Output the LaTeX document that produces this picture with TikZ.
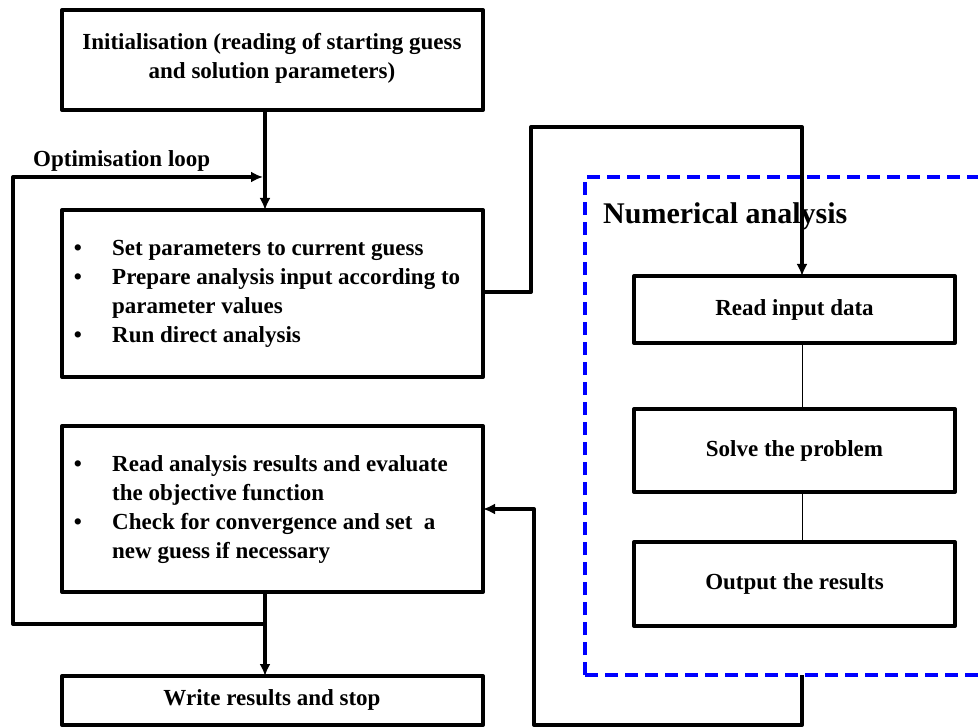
\documentclass[tikz,border=0pt]{standalone}
\usepackage{fontspec}
\setmainfont{Liberation Serif}
\usetikzlibrary{arrows.meta}
\tikzset{
  x=1pt,y=-1pt,
  box/.style={draw,line width=4pt,line join=round},
  conn/.style={line width=4pt,line join=round},
  arr/.style={conn,-{Latex[length=12pt,width=11pt]}},
  thin/.style={line width=0.8pt},
  txt/.style={font=\fontsize{23}{29}\selectfont\bfseries,inner sep=0pt},
}
\begin{document}
\begin{tikzpicture}
\useasboundingbox (0,0) rectangle (978,727);
\begin{scope}
\clip (0,0) rectangle (978,727);
% blue dashed frame
\draw[blue,line width=4pt,dash pattern=on 13pt off 7pt] (585,675) -- (585,177) -- (1000,177);
\draw[blue,line width=4pt,dash pattern=on 13pt off 7pt] (585,675) -- (1000,675);
% left boxes
\draw[box] (62,10) rectangle (483,110);
\coordinate (initS) at (265,110);
\draw[box] (62,210) rectangle (483,377);
\coordinate (b2N) at (265,210);
\coordinate (b2E) at (483,292);
\draw[box] (62,426) rectangle (483,592);
\coordinate (b3S) at (265,592);
\coordinate (b3E) at (483,509);
\draw[box] (62,676) rectangle (483,725);
\coordinate (wN) at (265,676);
% right boxes
\draw[box] (634,276) rectangle (955,343);
\draw[box] (634,409) rectangle (955,492);
\draw[box] (634,542) rectangle (955,626);
\coordinate (rN) at (802,276);
\coordinate (rS) at (802,343);
\coordinate (sN) at (802,409);
\coordinate (sS) at (802,492);
\coordinate (oN) at (802,542);
\coordinate (blueS) at (802,675);
% texts
\node[txt,align=center,font=\fontsize{23}{29}\selectfont\bfseries] (init) at (272,58)
  {Initialisation (reading of starting guess\\and solution parameters)};
\node[txt,anchor=west] (t1) at (112,250) {Set parameters to current guess};
\node[txt,anchor=west] (t2) at (112,279) {Prepare analysis input according to};
\node[txt,anchor=west] (t3) at (112,308) {parameter values};
\node[txt,anchor=west] (t4) at (112,337) {Run direct analysis};
\node[txt] (d1) at (78,250) {•};
\node[txt] (d2) at (78,279) {•};
\node[txt] (d4) at (78,337) {•};
\node[txt,anchor=west] (u1) at (112,466) {Read analysis results and evaluate};
\node[txt,anchor=west] (u2) at (112,495) {the objective function};
\node[txt,anchor=west] (u3) at (112,524) {Check for convergence and set\ \ a};
\node[txt,anchor=west] (u4) at (112,553) {new guess if necessary};
\node[txt] (e1) at (78,466) {•};
\node[txt] (e3) at (78,524) {•};
\node[txt] (write) at (272,700) {Write results and stop};
\node[txt] (read) at (794.5,310) {Read input data};
\node[txt] (solve) at (794.5,451) {Solve the problem};
\node[txt] (out) at (794.5,584) {Output the results};
\node[txt,anchor=base west,font=\fontsize{23}{29}\selectfont\bfseries] (opt) at (33,167) {Optimisation loop};
\node[txt,anchor=base west,font=\fontsize{30}{36}\selectfont\bfseries] (num) at (603,224) {Numerical analysis};
% connectors
\coordinate (loopL) at (13,624);
\coordinate (loopT) at (13,177);
\coordinate (loopJ) at (265,624);
\draw[arr] (initS) -- (b2N);
\draw[conn] (b3S) -- (loopJ);
\draw[arr] (loopJ) -- (wN);
\draw[arr] (loopJ) -- (loopL) -- (loopT) -- (263,177);
\draw[arr] (b2E) -- (531,292) -- (531,127) -- (802,127) -- (rN);
\draw[thin] (rS) -- (sN);
\draw[thin] (sS) -- (oN);
\draw[arr] (blueS) -- (802,725) -- (534,725) -- (534,509) -- (b3E);
\end{scope}
\end{tikzpicture}
\end{document}
